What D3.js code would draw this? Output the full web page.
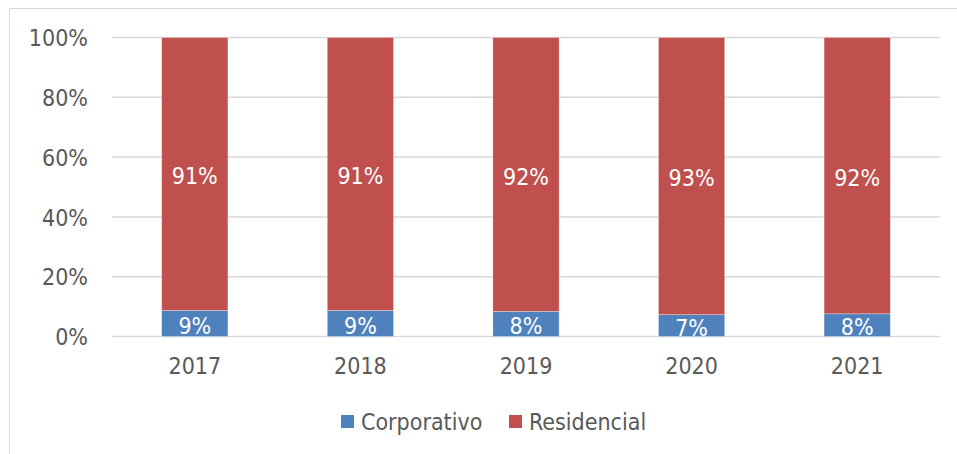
<!DOCTYPE html>
<html>
<head>
<meta charset="utf-8">
<script src="https://cdn.jsdelivr.net/npm/d3@7"></script>
<style>
  body { margin: 0; background: #fff; }
  text { font-family: "DejaVu Sans Condensed", "DejaVu Sans", sans-serif; font-stretch: condensed; }
</style>
</head>
<body>
<div id="chart"></div>
<script>
// datos
const years = ["2017", "2018", "2019", "2020", "2021"];
const corporativo = [8.7, 8.7, 8.4, 7.3, 7.6];
const residencial = [91.3, 91.3, 91.6, 92.7, 92.4];
const yTicks = [0, 20, 40, 60, 80, 100];
const seriesNames = ["Corporativo", "Residencial"];
const colors = ["#4f81bd", "#c0504d"];

const W = 957, H = 454;
const margin = { top: 37.5, right: 17, bottom: 117.5, left: 112 },
  width = W - margin.left - margin.right,
  height = H - margin.top - margin.bottom;
const fontSize = "23px";

const root = d3.select("#chart").append("svg")
  .attr("width", W).attr("height", H);

// marco
root.append("rect")
  .attr("x", 9.5).attr("y", 8.5)
  .attr("width", 1000).attr("height", 1000)
  .attr("fill", "none").attr("stroke", "#d9d9d9").attr("stroke-width", 1);

const svg = root.append("g")
  .attr("transform", `translate(${margin.left},${margin.top})`);

const x = d3.scaleBand().domain(years).range([0, width])
  .paddingInner(0.6).paddingOuter(0.3);
const y = d3.scaleLinear().domain([0, 100]).range([height, 0]);

// líneas de cuadrícula
svg.append("g").selectAll("line").data(yTicks).join("line")
  .attr("x1", 0).attr("x2", width)
  .attr("y1", d => y(d)).attr("y2", d => y(d))
  .attr("stroke", "#d9d9d9").attr("stroke-width", 1.5);

// eje y
const yAxis = svg.append("g")
  .call(d3.axisLeft(y).tickValues(yTicks).tickFormat(d => d + "%").tickSize(0).tickPadding(24));
yAxis.select(".domain").remove();
yAxis.selectAll("text").attr("fill", "#595959").style("font-size", fontSize).attr("dy", "0.36em");

// eje x
const xAxis = svg.append("g")
  .attr("transform", `translate(0,${height})`)
  .call(d3.axisBottom(x).tickSize(0).tickPadding(21));
xAxis.select(".domain").remove();
xAxis.selectAll("text").attr("fill", "#595959").style("font-size", fontSize);

// barras apiladas
const rows = years.map((yr, i) => ({ year: yr, Corporativo: corporativo[i], Residencial: residencial[i] }));
const stack = d3.stack().keys(seriesNames)(rows);

const groups = svg.selectAll(".serie").data(stack).join("g")
  .attr("class", "serie")
  .attr("fill", (d, i) => colors[i]);

groups.selectAll("rect").data(d => d).join("rect")
  .attr("x", d => x(d.data.year))
  .attr("width", x.bandwidth())
  .attr("y", d => y(d[1]))
  .attr("height", d => y(d[0]) - y(d[1]))
  .attr("stroke", "#ffffff").attr("stroke-opacity", 0.4).attr("stroke-width", 0.75);

// etiquetas
groups.selectAll("text").data(d => d).join("text")
  .attr("x", d => x(d.data.year) + x.bandwidth() / 2)
  .attr("y", d => (y(d[0]) + y(d[1])) / 2)
  .attr("dy", "0.45em")
  .attr("text-anchor", "middle")
  .attr("fill", "#ffffff")
  .style("font-size", fontSize)
  .text(d => Math.round(d[1] - d[0]) + "%");

// leyenda
const legend = root.append("g").attr("transform", "translate(341,415)");
const legendX = [0, 168];
seriesNames.forEach((name, i) => {
  const g = legend.append("g").attr("transform", `translate(${legendX[i]},0)`);
  g.append("rect").attr("width", 13).attr("height", 13).attr("fill", colors[i]);
  g.append("text").attr("x", 20).attr("y", 6.5).attr("dy", "0.36em")
    .attr("fill", "#595959").style("font-size", fontSize).text(name);
});
</script>
</body>
</html>
